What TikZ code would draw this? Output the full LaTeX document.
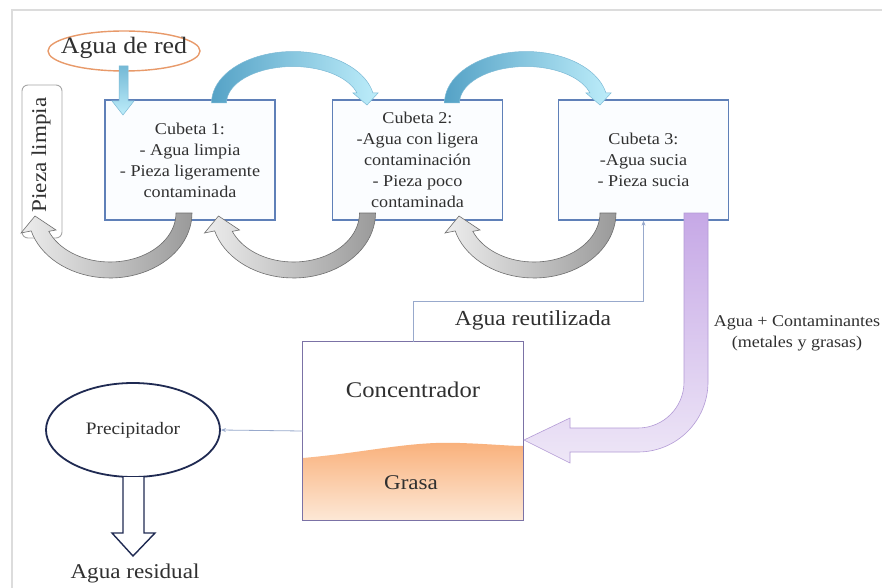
\documentclass[tikz,border=0pt]{standalone}
\usepackage{fontspec}
\setmainfont{Liberation Serif}[FakeStretch=1.1]
\usetikzlibrary{shapes.geometric,arrows.meta}

\definecolor{framegray}{HTML}{DCDCDC}
\definecolor{txt}{HTML}{303030}
\definecolor{tankblue}{HTML}{5F80B8}
\definecolor{tankfill}{HTML}{FBFDFF}
\definecolor{concedge}{HTML}{7B72A6}
\definecolor{fattop}{HTML}{F9B07A}
\definecolor{fatbot}{HTML}{FDE8D6}
\definecolor{redorange}{HTML}{E89A6A}
\definecolor{navy}{HTML}{1F2A52}
\definecolor{thinline}{HTML}{98A9CC}
\definecolor{flowdark}{HTML}{55A2C6}
\definecolor{flowlight}{HTML}{BDEDFA}
\definecolor{flowedge}{HTML}{7DBAD6}
\definecolor{partdark}{HTML}{9A9A9A}
\definecolor{partlight}{HTML}{EDEDED}
\definecolor{partedge}{HTML}{6E6E6E}
\definecolor{sludgetop}{HTML}{C6A8E6}
\definecolor{sludgebot}{HTML}{EEE7F7}
\definecolor{sludgeedge}{HTML}{B39BD6}

\tikzset{
  tank/.style={draw=tankblue, line width=1.3pt, fill=tankfill, minimum width=170,
    minimum height=120, inner sep=0pt, align=center, text=txt,
    font=\fontsize{16.5}{21}\selectfont},
  label/.style={text=txt, inner sep=0pt, align=center},
  thin/.style={draw=thinline, line width=0.8pt},
  % water carried forward from one tank to the next (arc over the top)
  pics/waterflow/.style={code={
    \path[draw=flowedge, line width=0.5pt, left color=flowdark, right color=flowlight]
      plot[domain=180:11.2, samples=40, variable=\t] ({81.5*cos(\t)},{-51.5*sin(\t)})
      -- (85,-10) -- (74,2) -- (60,-10)
      -- plot[domain=15.9:180, samples=40, variable=\t] ({66.5*cos(\t)},{-36.5*sin(\t)})
      -- cycle;
  }},
  % part moved back to the previous tank (arc underneath)
  pics/partflow/.style={code={
    \path[draw=partedge, line width=0.6pt, left color=partlight, right color=partdark]
      plot[domain=0:164, samples=40, variable=\t] ({82*cos(\t)},{65*sin(\t)})
      -- (-89,20) -- (-75,3) -- (-54,17)
      -- plot[domain=158:0, samples=40, variable=\t] ({66*cos(\t)},{49*sin(\t)})
      -- cycle;
  }}
}

\begin{document}
\begin{tikzpicture}[x=1pt, y=-1pt]
  \useasboundingbox (0,0) rectangle (882,588);
  \fill[white] (0,0) rectangle (882,588);

  % frame
  \draw[framegray, line width=1.5pt] (12,588) -- (12,10) -- (882,10);

  % supply
  \node[ellipse, draw=redorange, line width=1.4pt, minimum width=152, minimum height=40,
        inner sep=0pt] (red) at (124,51) {};
  \node[label, font=\fontsize{23.5}{26}\selectfont] (redtxt) at (124,48) {Agua de red};

  % finished part
  \node[draw=gray!70, line width=0.9pt, rounded corners=6pt, fill=white, rotate=90,
        minimum width=153, minimum height=40, inner sep=0pt] (clean) at (42,161.5) {};
  \node[label, rotate=90, font=\fontsize{21}{24}\selectfont] (cleantxt) at (41,155) {Pieza limpia};

  % rinsing tanks
  \node[tank] (c1) at (190,160) {Cubeta 1:\\- Agua limpia\\- Pieza ligeramente\\contaminada};
  \node[tank] (c2) at (417.5,160) {Cubeta 2:\\-Agua con ligera\\contaminación\\- Pieza poco\\contaminada};
  \node[tank] (c3) at (643.5,160) {Cubeta 3:\\-Agua sucia\\- Pieza sucia};

  % fresh water into tank 1
  \path[draw=flowedge, line width=0.5pt, top color=flowdark!70!flowlight, bottom color=flowlight]
    (119,66) -- (128,66) -- (128,101) -- (134,101) -- (123,115) -- (112,101) -- (119,101) -- cycle;

  % water cascade between tanks
  \pic at (293,103) {waterflow};
  \pic at (526,103) {waterflow};

  % part moved back through the tanks
  \pic at (110,213) {partflow};
  \pic at (293.5,213) {partflow};
  \pic at (534,213) {partflow};

  % concentrator
  \node[draw=none, minimum width=220, minimum height=178, inner sep=0pt] (conc) at (413,431) {};
  \path[top color=fattop, bottom color=fatbot]
    (303,458) .. controls (370,452) and (410,441) .. (460,443)
    .. controls (490,444) and (510,446) .. (523,446) -- (523,520) -- (303,520) -- cycle;
  \draw[concedge, line width=1.3pt] (conc.south west) rectangle (conc.north east);
  \node[label, font=\fontsize{22.4}{25}\selectfont] (conctxt) at (413,390) {Concentrador};
  \node[label, font=\fontsize{21}{24}\selectfont] (fat) at (411,483) {Grasa};

  % dirty water to the concentrator
  \path[draw=sludgeedge, line width=0.6pt, top color=sludgetop, bottom color=sludgebot]
    (684,213) -- (708,213) -- (708,382)
    .. controls (708,420.7) and (676.7,452) .. (638,452)
    -- (570,452) -- (570,463) -- (524,440) -- (570,418) -- (570,428) -- (638,428)
    .. controls (663.4,428) and (684,407.4) .. (684,382) -- cycle;
  \node[label, font=\fontsize{16.4}{21}\selectfont] (cont) at (797,333)
    {Agua + Contaminantes\\(metales y grasas)};

  % reused water back to tank 3
  \draw[thin, -{Stealth[length=5pt, width=4pt]}] (conc.north) -- ++(0,-40) -| (c3.south);
  \node[label, font=\fontsize{21.4}{24}\selectfont] (reuse) at (533,320) {Agua reutilizada};

  % precipitator
  \node[ellipse, draw=navy, line width=1.8pt, minimum width=174, minimum height=94,
        inner sep=0pt, text=txt, font=\fontsize{17.5}{20}\selectfont] (prec) at (133,430) {Precipitador};
  \draw[thin, -{Stealth[length=5pt, width=4pt]}] (conc.west) -- (prec.east);

  % waste water outlet
  \path[draw=navy, line width=1.4pt, fill=white, line join=miter]
    (123,477) -- (123,533) -- (112,533) -- (133,556) -- (155,533) -- (144,533) -- (144,477);
  \node[label, font=\fontsize{21}{24}\selectfont] (waste) at (135,573) {Agua residual};
\end{tikzpicture}
\end{document}
